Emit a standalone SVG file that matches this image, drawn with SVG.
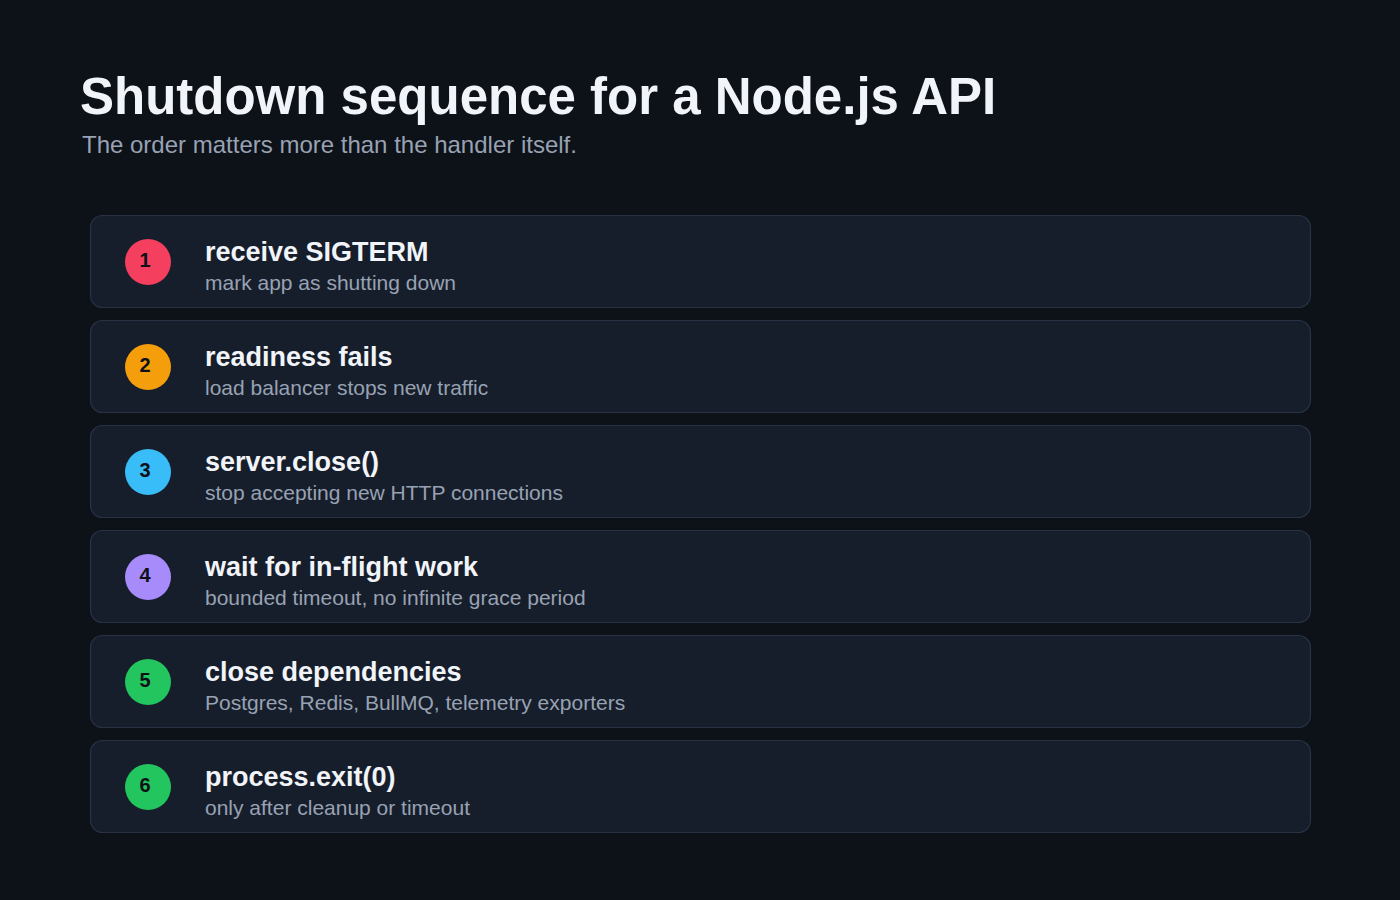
<svg xmlns="http://www.w3.org/2000/svg" width="1400" height="900" viewBox="0 0 1400 900">
<style>
.card{fill:#171e2b;stroke:#283244;stroke-width:1.2}
.num{font-family:"Liberation Sans",Arial,sans-serif;font-size:20px;font-weight:bold;fill:#0d1117;text-anchor:middle}
.t{font-family:"Liberation Sans",Arial,sans-serif;font-size:27px;font-weight:bold;fill:#f1f4f9}
.s{font-family:"Liberation Sans",Arial,sans-serif;font-size:21px;fill:#98a2b3}
</style>
<rect width="1400" height="900" fill="#0d1118"/>
<text x="80" y="114" font-family="Liberation Sans,Arial,sans-serif" font-size="51" font-weight="bold" fill="#f1f4f9">Shutdown sequence for a Node.js API</text>
<text x="82" y="153" font-family="Liberation Sans,Arial,sans-serif" font-size="24" fill="#98a2b3">The order matters more than the handler itself.</text>
<g id="step1"><rect class="card" x="90.500" y="215.500" width="1220" height="92" rx="12"/><circle cx="148" cy="262" r="23" fill="#f43f5e"/><text class="num" x="145" y="267">1</text><text class="t" x="205" y="261">receive SIGTERM</text><text class="s" x="205" y="290">mark app as shutting down</text></g>
<g id="step2"><rect class="card" x="90.500" y="320.500" width="1220" height="92" rx="12"/><circle cx="148" cy="367" r="23" fill="#f59e0b"/><text class="num" x="145" y="372">2</text><text class="t" x="205" y="366">readiness fails</text><text class="s" x="205" y="395">load balancer stops new traffic</text></g>
<g id="step3"><rect class="card" x="90.500" y="425.500" width="1220" height="92" rx="12"/><circle cx="148" cy="472" r="23" fill="#38bdf8"/><text class="num" x="145" y="477">3</text><text class="t" x="205" y="471">server.close()</text><text class="s" x="205" y="500">stop accepting new HTTP connections</text></g>
<g id="step4"><rect class="card" x="90.500" y="530.500" width="1220" height="92" rx="12"/><circle cx="148" cy="577" r="23" fill="#a78bfa"/><text class="num" x="145" y="582">4</text><text class="t" x="205" y="576">wait for in-flight work</text><text class="s" x="205" y="605">bounded timeout, no infinite grace period</text></g>
<g id="step5"><rect class="card" x="90.500" y="635.500" width="1220" height="92" rx="12"/><circle cx="148" cy="682" r="23" fill="#22c55e"/><text class="num" x="145" y="687">5</text><text class="t" x="205" y="681">close dependencies</text><text class="s" x="205" y="710">Postgres, Redis, BullMQ, telemetry exporters</text></g>
<g id="step6"><rect class="card" x="90.500" y="740.500" width="1220" height="92" rx="12"/><circle cx="148" cy="787" r="23" fill="#22c55e"/><text class="num" x="145" y="792">6</text><text class="t" x="205" y="786">process.exit(0)</text><text class="s" x="205" y="815">only after cleanup or timeout</text></g>
<g id="connectors"/>
</svg>
